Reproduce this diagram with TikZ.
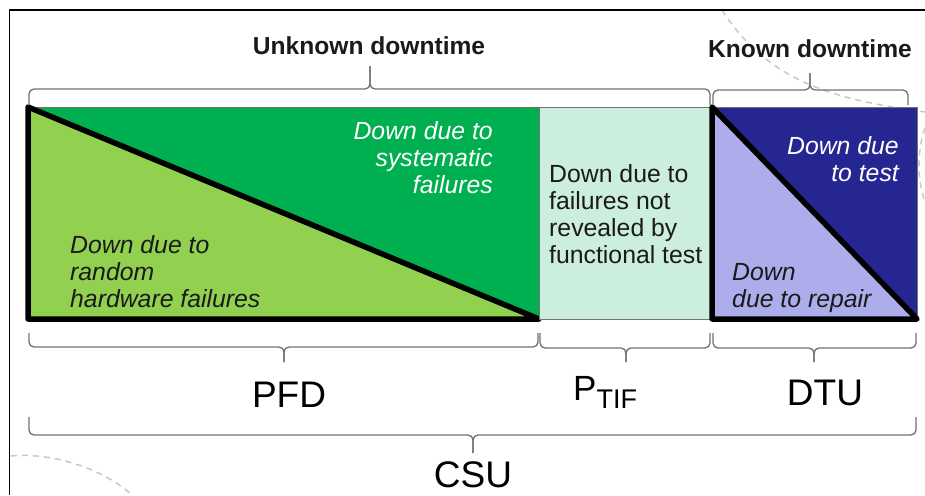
\documentclass[tikz,border=0pt]{standalone}
\usepackage{fontspec}
\setmainfont{Liberation Sans}
\definecolor{randgreen}{HTML}{92D050}
\definecolor{sysgreen}{HTML}{00B050}
\definecolor{tifmint}{HTML}{CCEEDD}
\definecolor{testblue}{HTML}{262693}
\definecolor{repairlav}{HTML}{ADADEB}
\definecolor{bracegray}{HTML}{707070}
\definecolor{arcgray}{HTML}{C8C8C8}
\definecolor{inkdark}{HTML}{1A1A1A}

% horizontal curly bracket: x-left, x-right, x-tip, y-ends, y-bar, y-tip
\newcommand\spanbrace[6]{%
  \draw[bracket] (#1,#4) -- (#1,#5) -- (#3,#5) -- (#3,#6);
  \draw[bracket] (#2,#4) -- (#2,#5) -- (#3,#5) -- (#3,#6);}

\begin{document}
\begin{tikzpicture}[x=1pt,y=-1pt,
  area/.style={draw=black!55, line width=0.8pt},
  bound/.style={draw=black, line width=5.5pt, line join=round, line cap=round},
  bracket/.style={draw=bracegray, line width=1.3pt, rounded corners=5pt},
  arcline/.style={draw=arcgray, line width=1.5pt, dash pattern=on 6pt off 5pt},
  txt/.style={inner sep=0pt, text=inkdark, font=\fontsize{24.8}{27}\selectfont},
  ittxt/.style={inner sep=0pt, font=\fontsize{24.8}{27}\selectfont\itshape},
  head/.style={inner sep=0pt, text=inkdark, font=\fontsize{24.6}{27}\selectfont\bfseries},
  big/.style={inner sep=0pt, text=black, font=\fontsize{37}{37}\selectfont}]
\useasboundingbox (0,0) rectangle (925,495);

% decorative dashed arcs
\draw[arcline] (722,10) .. controls (770,85) and (840,100) .. (925,112);
\draw[arcline] (925,128) .. controls (917,150) and (917,180) .. (925,202);
\draw[arcline] (11,456) .. controls (50,452) and (105,468) .. (135,498);

% frame
\draw[black, line width=1.5pt] (9.5,495) -- (9.5,10) -- (925,10);

% unknown downtime: random + systematic failures
\draw[area, fill=sysgreen] (28,107) rectangle (539,319);
\draw[bound, fill=randgreen] (28,107) -- (28,319) -- (539,319) -- cycle;
% failures not revealed by test
\draw[area, fill=tifmint] (539,107) rectangle (712,319);
% known downtime: test + repair
\draw[area, fill=testblue] (712,107) rectangle (917,319);
\draw[bound, fill=repairlav] (712,107) -- (712,319) -- (917,319) -- cycle;

% labels inside the bar (base anchor = baseline of the last line)
\node[ittxt, text=inkdark, align=left, anchor=base west] (rand) at (70,307)
  {Down due to\\random\\hardware failures};
\node[ittxt, text=white, align=right, anchor=base east] (sys) at (493,193)
  {Down due to\\systematic\\failures};
\node[txt, align=left, anchor=base west] (tif) at (549,263)
  {Down due to\\failures not\\revealed by\\functional test};
\node[ittxt, text=white, align=right, anchor=base east] (test) at (899,181)
  {Down due\\to test};
\node[ittxt, text=inkdark, align=left, anchor=base west] (rep) at (732,307)
  {Down\\due to repair};

% upper brackets
\spanbrace{29}{710}{370}{105}{89}{66}
\spanbrace{713}{908}{810}{105}{90}{73}
\node[head, anchor=base] (unk) at (369,55) {Unknown downtime};
\node[head, anchor=base] (kno) at (810,57) {Known downtime};

% lower brackets
\spanbrace{29}{538}{284}{333}{347}{362}
\spanbrace{540}{710}{626}{333}{348}{362}
\spanbrace{713}{916}{814}{333}{348}{362}
\spanbrace{29}{916}{473}{417}{435}{453}
\node[big, anchor=base] (pfd) at (289,407) {PFD};
\node[big, anchor=base west, font=\fontsize{35}{35}\selectfont] (ptif) at (573,400)
  {P\raisebox{-8pt}{\fontsize{27}{27}\selectfont TIF}};
\node[big, anchor=base] (dtu) at (825,405) {DTU};
\node[big, anchor=base] (csu) at (473,487) {CSU};
\end{tikzpicture}
\end{document}
